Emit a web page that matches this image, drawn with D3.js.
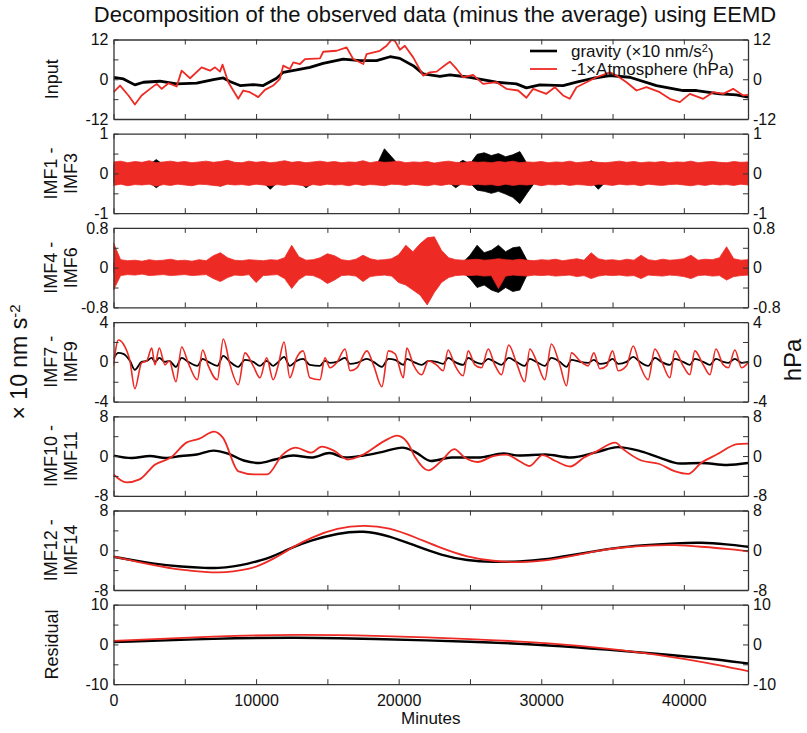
<!DOCTYPE html>
<html>
<head>
<meta charset="utf-8">
<script src="https://cdn.jsdelivr.net/npm/d3@7"></script>
<style>
body { margin: 0; background: #fff; }
text { font-family: "Liberation Sans", Arial, sans-serif; fill: #111; }
</style>
</head>
<body>
<script>
// ---- data ----
// Input: gravity (x10 nm/s^2) and -1 x atmosphere (hPa)
var inputGravMin = [0,700,1500,2100,3250,4430,5830,7000,7700,8160,
  8870,9800,10500,11440,11900,12840,13770,14700,16110,17280,
  18450,19400,20080,21020,21720,22890,23590,24990,26860,28260,
  28960,29900,31530,32470,33640,34810,36210,38080,39950,40890,
  42520,43690,44500];
var inputGrav = [0.6,0.1,-1.7,-0.9,-0.6,-1.4,-1.2,-0.1,0.4,-0.7,
  -1.9,-1.6,-1.9,0.3,2.1,2.8,3.6,4.8,6.1,5.6,
  5.6,6.8,6.3,4.1,1.6,0.9,1.3,0.6,-0.9,-1.4,
  -2.6,-1.7,-1.9,-0.9,0.3,1.1,0.6,-1.9,-3.4,-3.4,
  -4.4,-4.7,-5.4];
var inputAtmMin = [0,460,1050,1500,1970,2560,3030,3380,3850,4430,
  4780,5370,6180,6770,7120,7470,7650,8050,8750,9100,
  9560,10150,10620,11200,11670,11900,12370,12610,13080,13430,
  14480,14710,15650,16350,16810,17520,17750,18680,19150,19500,
  19740,20090,20430,21020,21720,22190,22660,23360,23590,24060,
  24520,25220,25920,26860,27560,28380,28960,29430,30360,30950,
  31530,32000,32470,33170,33870,34810,35280,35980,36680,37380,
  38310,39010,39720,40420,41360,42060,42760,43460,44160,44500];
var inputAtm = [-3.9,-1.9,-4.9,-7.6,-4.9,-2.9,-1.4,-2.9,-1.2,-2.2,
  2.6,0.3,3.6,2.6,3.6,2.3,4.4,-0.9,-5.9,-3.4,
  -3.9,-5.4,-3.2,-1.9,0.1,4.1,3.1,5.1,4.6,6.1,
  6.3,8.3,8.6,9.6,6.1,4.6,7.6,8.6,10.1,11.9,
  11.6,8.9,10.1,6.6,1.1,2.1,2.3,4.6,5.3,3.1,
  0.6,1.3,-1.4,-0.9,-2.9,-3.4,-5.6,-2.9,-4.4,-2.4,
  -4.9,-5.9,-2.4,-0.9,0.6,2.1,1.1,-0.9,-3.4,-2.4,
  -3.9,-5.9,-6.9,-4.4,-5.9,-3.9,-4.4,-2.9,-4.9,-4.7];

// IMF1-IMF3 and IMF4-IMF6: envelopes of the dense traces, every 500 minutes
var noiseMin = d3.range(0, 44501, 500);
var imf13AtmHi = [0.29,0.31,0.27,0.30,0.28,0.32,0.27,0.29,0.31,0.28,
  0.30,0.27,0.29,0.31,0.28,0.30,0.33,0.28,0.27,0.31,
  0.28,0.30,0.27,0.29,0.32,0.28,0.30,0.27,0.29,0.31,
  0.28,0.30,0.27,0.29,0.28,0.32,0.27,0.30,0.28,0.29,
  0.31,0.27,0.29,0.28,0.30,0.26,0.29,0.31,0.28,0.27,
  0.30,0.28,0.29,0.27,0.30,0.28,0.31,0.27,0.29,0.28,
  0.30,0.27,0.29,0.28,0.31,0.27,0.29,0.30,0.28,0.27,
  0.29,0.31,0.28,0.30,0.27,0.29,0.28,0.30,0.27,0.29,
  0.28,0.31,0.27,0.29,0.30,0.28,0.27,0.30,0.28,0.29];
var imf13AtmLo = [-0.30,-0.27,-0.31,-0.28,-0.29,-0.27,-0.32,-0.28,-0.30,-0.27,
  -0.29,-0.31,-0.27,-0.28,-0.30,-0.32,-0.27,-0.29,-0.28,-0.30,
  -0.27,-0.29,-0.31,-0.28,-0.30,-0.27,-0.29,-0.32,-0.28,-0.30,
  -0.27,-0.29,-0.28,-0.31,-0.27,-0.30,-0.28,-0.29,-0.31,-0.27,
  -0.28,-0.30,-0.27,-0.29,-0.31,-0.28,-0.30,-0.27,-0.29,-0.28,
  -0.30,-0.27,-0.29,-0.28,-0.31,-0.27,-0.30,-0.28,-0.29,-0.27,
  -0.31,-0.28,-0.29,-0.27,-0.30,-0.28,-0.29,-0.31,-0.27,-0.28,
  -0.30,-0.27,-0.29,-0.28,-0.31,-0.27,-0.29,-0.30,-0.28,-0.27,
  -0.29,-0.31,-0.28,-0.30,-0.27,-0.29,-0.28,-0.30,-0.27,-0.29];
var imf13GravHi = [0.22,0.21,0.23,0.22,0.24,0.22,0.35,0.22,0.21,0.23,
  0.22,0.24,0.21,0.22,0.23,0.22,0.21,0.24,0.22,0.23,
  0.21,0.22,0.23,0.22,0.24,0.21,0.22,0.23,0.22,0.21,
  0.23,0.22,0.24,0.22,0.21,0.23,0.22,0.24,0.62,0.42,
  0.22,0.23,0.21,0.22,0.24,0.22,0.23,0.21,0.22,0.33,
  0.24,0.48,0.52,0.45,0.50,0.42,0.47,0.55,0.25,0.22,
  0.23,0.21,0.22,0.24,0.22,0.23,0.21,0.32,0.22,0.23,
  0.21,0.22,0.24,0.22,0.23,0.21,0.22,0.23,0.22,0.24,
  0.22,0.21,0.23,0.22,0.24,0.22,0.21,0.23,0.22,0.22];
var imf13GravLo = [-0.22,-0.23,-0.21,-0.22,-0.24,-0.22,-0.36,-0.23,-0.21,-0.22,
  -0.23,-0.22,-0.24,-0.21,-0.22,-0.32,-0.23,-0.22,-0.21,-0.24,
  -0.22,-0.23,-0.40,-0.22,-0.21,-0.23,-0.22,-0.36,-0.24,-0.22,
  -0.21,-0.23,-0.22,-0.24,-0.22,-0.21,-0.23,-0.22,-0.24,-0.22,
  -0.23,-0.21,-0.22,-0.24,-0.22,-0.23,-0.21,-0.22,-0.36,-0.23,
  -0.24,-0.42,-0.45,-0.50,-0.45,-0.52,-0.60,-0.76,-0.50,-0.25,
  -0.22,-0.23,-0.21,-0.22,-0.24,-0.22,-0.23,-0.21,-0.40,-0.22,
  -0.23,-0.21,-0.22,-0.24,-0.22,-0.23,-0.21,-0.22,-0.24,-0.22,
  -0.21,-0.23,-0.22,-0.24,-0.22,-0.21,-0.23,-0.22,-0.24,-0.22];

var imf46AtmHi = [0.50,0.16,0.14,0.15,0.13,0.16,0.14,0.15,0.17,0.14,
  0.15,0.13,0.16,0.14,0.24,0.30,0.20,0.15,0.14,0.16,
  0.15,0.14,0.16,0.15,0.20,0.45,0.22,0.15,0.16,0.20,
  0.28,0.24,0.16,0.14,0.17,0.25,0.18,0.15,0.16,0.18,
  0.26,0.45,0.32,0.48,0.60,0.62,0.35,0.20,0.16,0.15,
  0.16,0.17,0.15,0.16,0.18,0.16,0.15,0.17,0.15,0.14,
  0.16,0.15,0.17,0.14,0.16,0.18,0.15,0.30,0.18,0.15,
  0.16,0.14,0.17,0.15,0.25,0.16,0.14,0.17,0.15,0.16,
  0.18,0.25,0.15,0.17,0.16,0.20,0.42,0.18,0.15,0.16];
var imf46AtmLo = [-0.45,-0.16,-0.14,-0.15,-0.13,-0.16,-0.15,-0.14,-0.16,-0.15,
  -0.14,-0.16,-0.15,-0.14,-0.22,-0.28,-0.20,-0.15,-0.16,-0.14,
  -0.30,-0.16,-0.15,-0.14,-0.22,-0.42,-0.24,-0.15,-0.16,-0.22,
  -0.32,-0.25,-0.16,-0.15,-0.17,-0.28,-0.18,-0.16,-0.15,-0.17,
  -0.30,-0.35,-0.45,-0.55,-0.75,-0.50,-0.30,-0.20,-0.16,-0.15,
  -0.16,-0.15,-0.17,-0.16,-0.42,-0.17,-0.15,-0.16,-0.17,-0.15,
  -0.16,-0.15,-0.17,-0.16,-0.15,-0.18,-0.16,-0.22,-0.17,-0.15,
  -0.16,-0.15,-0.17,-0.16,-0.22,-0.15,-0.16,-0.17,-0.15,-0.16,
  -0.18,-0.22,-0.16,-0.15,-0.17,-0.16,-0.25,-0.18,-0.16,-0.15];
var imf46GravHi = [0.10,0.11,0.10,0.09,0.11,0.10,0.10,0.11,0.09,0.10,
  0.11,0.10,0.09,0.10,0.11,0.10,0.10,0.09,0.11,0.10,
  0.10,0.11,0.10,0.09,0.10,0.11,0.10,0.10,0.09,0.11,
  0.10,0.10,0.11,0.09,0.10,0.10,0.11,0.10,0.09,0.10,
  0.11,0.10,0.10,0.09,0.11,0.10,0.10,0.11,0.09,0.10,
  0.25,0.45,0.30,0.35,0.45,0.32,0.40,0.42,0.15,0.10,
  0.10,0.11,0.09,0.10,0.10,0.11,0.10,0.09,0.10,0.11,
  0.10,0.10,0.11,0.09,0.10,0.10,0.11,0.10,0.09,0.10,
  0.11,0.10,0.10,0.09,0.11,0.10,0.10,0.11,0.09,0.10];
var imf46GravLo = [-0.10,-0.11,-0.10,-0.09,-0.11,-0.10,-0.10,-0.11,-0.09,-0.10,
  -0.11,-0.10,-0.09,-0.10,-0.11,-0.10,-0.10,-0.09,-0.11,-0.10,
  -0.10,-0.11,-0.10,-0.09,-0.10,-0.11,-0.10,-0.10,-0.09,-0.11,
  -0.10,-0.10,-0.11,-0.09,-0.10,-0.10,-0.11,-0.10,-0.09,-0.10,
  -0.11,-0.10,-0.10,-0.09,-0.11,-0.10,-0.10,-0.11,-0.09,-0.10,
  -0.22,-0.40,-0.35,-0.45,-0.50,-0.40,-0.48,-0.45,-0.15,-0.10,
  -0.10,-0.11,-0.09,-0.10,-0.10,-0.11,-0.10,-0.09,-0.10,-0.11,
  -0.10,-0.10,-0.11,-0.09,-0.10,-0.10,-0.11,-0.10,-0.09,-0.10,
  -0.11,-0.10,-0.10,-0.09,-0.11,-0.10,-0.10,-0.11,-0.09,-0.10];

// IMF7-IMF9 (daily band): turning points
var imf79Min = [0,340,690,1150,1500,1970,2330,2680,2910,3210,
  3610,3910,4380,4780,5240,5880,6250,6650,7280,7700,
  8170,8750,9220,9800,10270,10740,11200,11560,11960,12370,
  12840,13300,13770,14480,14830,15180,15650,16240,16590,17070,
  17770,18230,18820,19280,19750,20330,20570,21030,21620,22090,
  22650,23120,23470,23930,24520,24880,25340,25810,26280,26740,
  27210,27720,28260,28840,29200,29660,30250,30710,31300,31770,
  32120,32710,33290,33690,34110,34580,35000,35400,35980,36450,
  36910,37500,37970,38430,39020,39370,39950,40420,40770,41360,
  41830,42250,42760,43120,43580,44050,44500];
var imf79Atm = [-0.4,2.2,1.8,0.1,-2.7,-0.1,0.1,1.4,-0.3,1.4,
  -0.3,0.1,-2.0,1.5,-0.1,-1.8,1.2,-0.4,-1.8,2.3,
  -0.3,-2.3,0.9,-0.4,-1.6,0.4,-1.8,-0.3,2.0,-1.6,
  0.4,1.1,-1.6,-1.8,0.4,-0.6,-0.1,1.3,-0.9,-0.6,
  1.1,-0.3,-2.5,1.1,0.8,-1.6,1.4,-0.3,-1.3,0.1,
  -0.3,-0.9,1.2,-0.3,-1.4,1.1,-0.3,-0.6,1.3,-0.3,
  -1.3,1.7,-0.1,-2.0,1.3,0.1,-1.8,1.8,-0.3,-2.4,
  0.9,0.1,-0.4,0.9,-0.7,-0.4,1.1,-0.9,-0.4,1.6,
  -0.3,-1.8,1.3,0.1,-1.6,1.1,-0.4,-1.3,1.1,-0.3,
  -1.3,1.3,-0.3,-0.6,1.2,-0.6,-0.1];
var imf79Grav = [0.3,0.9,0.8,0.1,-0.8,0.0,0.1,0.4,0.0,0.4,
  0.0,0.1,-0.5,0.4,0.0,-0.4,0.3,0.0,-0.4,0.6,
  0.0,-0.5,0.2,0.0,-0.4,0.1,-0.4,0.0,0.5,-0.4,
  0.1,0.3,-0.3,-0.4,0.1,-0.1,0.0,0.4,-0.2,-0.1,
  0.3,0.0,-0.5,0.3,0.2,-0.3,0.3,0.0,-0.3,0.1,
  0.0,-0.2,0.4,0.0,-0.3,0.4,0.0,-0.2,0.3,0.0,
  -0.3,0.4,0.0,-0.4,0.3,0.0,-0.4,0.4,0.0,-0.5,
  0.2,0.0,-0.1,0.2,-0.2,-0.1,0.3,-0.2,0.0,0.5,
  0.0,-0.4,0.4,0.0,-0.3,0.3,0.0,-0.3,0.3,0.0,
  -0.3,0.3,0.0,-0.1,0.3,-0.1,0.0];

// IMF10-IMF11
var imf1011AtmMin = [0,910,1830,2920,4020,5110,6030,7050,7670,8770,
  9860,10770,11860,12770,13870,14600,15510,16420,17520,18980,
  19890,20620,21170,22080,22990,23900,24630,25540,26630,27540,
  28450,29180,30090,31000,32020,33000,33910,35190,35740,37020,
  38290,39390,40300,41210,42300,43760,44500];
var imf1011Atm = [-3.7,-5.3,-4.7,-1.7,-0.3,2.7,3.5,4.9,3.7,-3.1,
  -3.7,-3.7,0.3,1.7,0.7,1.9,1.0,-0.7,0.3,3.0,
  4.1,2.7,-0.3,-2.9,-1.0,1.4,-0.3,-1.2,0.0,0.3,
  -1.0,-2.0,0.2,-1.0,-2.1,-0.3,1.0,2.7,1.4,-0.9,
  -1.6,-3.1,-3.6,-1.4,0.3,2.4,2.5];
var imf1011GravMin = [0,1280,2560,3650,4740,5840,7010,8030,9130,10220,
  11320,12600,13870,15150,16240,17520,18800,20260,21170,22260,
  23720,25540,27370,28450,30270,32100,33910,35370,36830,38290,
  39750,41210,43030,44500];
var imf1011Grav = [0.1,-0.4,0.0,-0.4,0.0,0.3,1.1,0.5,-0.9,-1.4,
  -0.7,0.1,-0.3,0.6,-0.3,0.1,0.8,1.7,0.8,-1.0,
  -0.3,-0.3,0.5,0.1,0.3,-0.3,0.8,1.8,1.1,-0.3,
  -1.5,-1.4,-1.8,-1.4];

// IMF12-IMF14
var imf1214Min = [0,2920,4740,6570,7300,8400,9500,10220,10950,12050,12400,
  13870,15700,17520,19350,21170,22990,24820,26630,28450,30270,
  32100,33910,35740,37570,39390,41210,43030,44500];
var imf1214Grav = [-1.3,-2.8,-3.3,-3.6,-3.6,-3.3,-2.7,-2.1,-1.5,-0.1,0.4,
  2.0,3.4,4.0,2.9,0.9,-1.0,-2.1,-2.4,-2.3,-1.9,
  -1.0,-0.1,0.7,1.1,1.4,1.6,1.2,0.7];
var imf1214Atm = [-1.3,-3.1,-4.0,-4.4,-4.5,-4.3,-3.8,-3.1,-2.1,-0.4,0.4,
  2.6,4.5,5.1,4.6,2.6,0.4,-1.4,-2.2,-2.5,-2.1,
  -1.2,-0.1,0.6,1.0,1.1,0.7,0.3,-0.2];

// Residual
var residMin = [0,7300,12800,18000,25300,30800,34600,38300,41700,44500];
var residGrav = [0.6,1.5,1.8,1.4,0.75,-0.25,-1.3,-2.4,-3.5,-4.8];
var residAtm = [0.9,2.1,2.5,2.25,1.4,0.3,-1.0,-2.6,-4.6,-6.7];

var panelNames = [["Input"], ["IMF1 -", "IMF3"], ["IMF4 -", "IMF6"], ["IMF7 -", "IMF9"],
  ["IMF10 -", "IMF11"], ["IMF12 -", "IMF14"], ["Residual"]];
var panelMax = [12, 1, 0.8, 4, 8, 8, 10];
var xTicks = d3.range(0, 44501, 5000);

// ---- layout ----
var svgWidth = 807;
var svgHeight = 733;
var margin = { left: 113.5, right: 59 };
var width = svgWidth - margin.left - margin.right;
var panelTop = 39.5;
var panelStep = 94.2;
var panelHeight = 79.5;

var svg = d3.select("body").append("svg")
  .attr("width", svgWidth)
  .attr("height", svgHeight);

var x = d3.scaleLinear().domain([0, 44500]).range([0, width]);

function pts(mins, vals) {
  return mins.map((m, i) => [m, vals[i]]);
}

var panels = [
  { lines: [[pts(inputGravMin, inputGrav), "#000", 2.8], [pts(inputAtmMin, inputAtm), "#ee2a24", 1.8]], curve: d3.curveLinear },
  { bands: [[imf13GravHi, imf13GravLo, "#000"], [imf13AtmHi, imf13AtmLo, "#ee2a24"]] },
  { bands: [[imf46GravHi, imf46GravLo, "#000"], [imf46AtmHi, imf46AtmLo, "#ee2a24"]] },
  { lines: [[pts(imf79Min, imf79Grav), "#000", 1.8], [pts(imf79Min, imf79Atm), "#ee2a24", 1.6]], curve: d3.curveMonotoneX },
  { lines: [[pts(imf1011GravMin, imf1011Grav), "#000", 2.4], [pts(imf1011AtmMin, imf1011Atm), "#ee2a24", 1.8]], curve: d3.curveMonotoneX },
  { lines: [[pts(imf1214Min, imf1214Grav), "#000", 2.4], [pts(imf1214Min, imf1214Atm), "#ee2a24", 1.8]], curve: d3.curveBasis },
  { lines: [[pts(residMin, residGrav), "#000", 2.4], [pts(residMin, residAtm), "#ee2a24", 1.8]], curve: d3.curveBasis }
];

panels.forEach(function(p, i) {
  var m = panelMax[i];
  var y = d3.scaleLinear().domain([-m, m]).range([panelHeight, 0]);
  var g = svg.append("g")
    .attr("transform", `translate(${margin.left}, ${panelTop + i * panelStep})`);

  g.append("clipPath").attr("id", "clip" + i)
    .append("rect").attr("width", width).attr("height", panelHeight);

  var plot = g.append("g").attr("clip-path", `url(#clip${i})`);

  if (p.bands) {
    p.bands.forEach(function(b) {
      var area = d3.area()
        .x((d, j) => x(noiseMin[j]))
        .y0((d, j) => y(b[1][j]))
        .y1((d, j) => y(b[0][j]));
      plot.append("path")
        .datum(noiseMin)
        .attr("d", area)
        .attr("fill", b[2])
        .attr("stroke", b[2])
        .attr("stroke-width", 0.8);
    });
  }
  if (p.lines) {
    p.lines.forEach(function(l) {
      var line = d3.line()
        .x(d => x(d[0]))
        .y(d => y(d[1]))
        .curve(p.curve);
      plot.append("path")
        .datum(l[0])
        .attr("d", line)
        .attr("fill", "none")
        .attr("stroke", l[1])
        .attr("stroke-width", l[2])
        .attr("stroke-linejoin", "round");
    });
  }

  // frame and ticks
  var yFmt = d => (Math.abs(d) === m || d === 0) ? String(d) : "";
  var yVals = [-m, -m / 2, 0, m / 2, m];

  g.append("g").attr("class", "axis")
    .call(d3.axisTop(x).tickValues(xTicks).tickSize(-5).tickSizeOuter(0).tickFormat(""));
  g.append("g").attr("class", "axis")
    .attr("transform", `translate(0, ${panelHeight})`)
    .call(d3.axisBottom(x).tickValues(xTicks).tickSize(-5).tickSizeOuter(0).tickPadding(10)
      .tickFormat(i === 6 ? (d => d % 10000 === 0 ? d : "") : ""));
  g.append("g").attr("class", "axis")
    .call(d3.axisLeft(y).tickValues(yVals).tickSize(-5).tickSizeOuter(0).tickPadding(5).tickFormat(yFmt));
  g.append("g").attr("class", "axis")
    .attr("transform", `translate(${width}, 0)`)
    .call(d3.axisRight(y).tickValues(yVals).tickSize(-5).tickSizeOuter(0).tickPadding(5).tickFormat(yFmt));

  // panel name
  var names = panelNames[i];
  var nt = g.append("text")
    .attr("transform", `translate(${names.length === 1 ? -62 : -52}, ${panelHeight / 2}) rotate(-90)`)
    .attr("text-anchor", "middle")
    .attr("font-size", "18px");
  names.forEach(function(s, k) {
    nt.append("tspan")
      .attr("x", 0)
      .attr("dy", k === 0 ? (names.length === 1 ? "0.35em" : "-0.25em") : "1.1em")
      .text(s);
  });
});

svg.selectAll(".axis path.domain").attr("stroke", "#333").attr("stroke-width", 1.3);
svg.selectAll(".axis line").attr("stroke", "#333").attr("stroke-width", 1);
svg.selectAll(".axis text")
  .attr("font-size", "16px")
  .attr("font-family", "Liberation Sans, Arial, sans-serif")
  .attr("fill", "#111");

// title
svg.append("text")
  .attr("x", 435)
  .attr("y", 22)
  .attr("text-anchor", "middle")
  .attr("font-size", "22px")
  .text("Decomposition of the observed data (minus the average) using EEMD");

// x label
svg.append("text")
  .attr("x", margin.left + width / 2)
  .attr("y", 724)
  .attr("text-anchor", "middle")
  .attr("font-size", "17px")
  .text("Minutes");

// outer y labels
var yl = svg.append("text")
  .attr("transform", "translate(27, 362) rotate(-90)")
  .attr("text-anchor", "middle")
  .attr("font-size", "23px");
yl.append("tspan").text("\u00d7 10 nm s");
yl.append("tspan").attr("dy", "-0.5em").attr("font-size", "15px").text("-2");

svg.append("text")
  .attr("transform", "translate(801, 360) rotate(-90)")
  .attr("text-anchor", "middle")
  .attr("font-size", "24px")
  .text("hPa");

// legend
var legend = svg.append("g").attr("transform", `translate(530, 0)`);
legend.append("line").attr("x1", 0).attr("x2", 27).attr("y1", 51).attr("y2", 51)
  .attr("stroke", "#000").attr("stroke-width", 2.6);
legend.append("line").attr("x1", 0).attr("x2", 27).attr("y1", 69).attr("y2", 69)
  .attr("stroke", "#ee2a24").attr("stroke-width", 1.8);
var lt1 = legend.append("text").attr("x", 41).attr("y", 57).attr("font-size", "17px");
lt1.append("tspan").text("gravity (\u00d710 nm/s");
lt1.append("tspan").attr("dy", "-0.45em").attr("font-size", "11px").text("2");
lt1.append("tspan").attr("dy", "0.45em").text(")");
legend.append("text").attr("x", 41).attr("y", 75).attr("font-size", "17px")
  .text("-1\u00d7Atmosphere (hPa)");
</script>
</body>
</html>
